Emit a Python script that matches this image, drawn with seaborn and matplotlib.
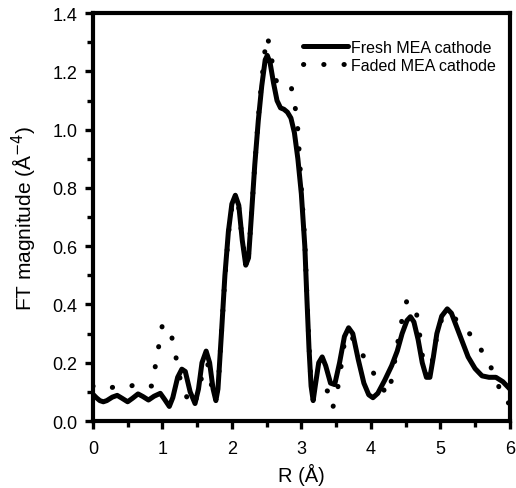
import numpy as np
import pandas as pd
import matplotlib
matplotlib.use("Agg")
import matplotlib.pyplot as plt
import seaborn as sns
from matplotlib.ticker import MultipleLocator

fresh_r = [0.00, 0.05, 0.10, 0.15, 0.20, 0.28, 0.35, 0.42, 0.50, 0.57, 0.65, 0.72, 0.80, 0.88, 0.97,
           1.03, 1.10, 1.15, 1.22, 1.28, 1.33, 1.40, 1.47, 1.52, 1.57, 1.63, 1.68, 1.73, 1.77, 1.80,
           1.85, 1.90, 1.95, 2.00, 2.05, 2.10, 2.15, 2.20, 2.24, 2.28, 2.33, 2.38, 2.43, 2.48, 2.51,
           2.55, 2.60, 2.65, 2.70, 2.75, 2.80, 2.85, 2.90, 2.95, 3.00, 3.05, 3.08, 3.11, 3.14, 3.17,
           3.20, 3.25, 3.30, 3.35, 3.42, 3.48, 3.55, 3.62, 3.68, 3.74, 3.82, 3.90, 3.97, 4.03, 4.10,
           4.20, 4.30, 4.38, 4.45, 4.52, 4.57, 4.62, 4.68, 4.74, 4.80, 4.85, 4.90, 4.95, 5.02, 5.10,
           5.16, 5.24, 5.32, 5.40, 5.50, 5.60, 5.70, 5.80, 5.90, 6.00]
fresh_ft = [0.092, 0.080, 0.070, 0.066, 0.070, 0.082, 0.088, 0.078, 0.066, 0.078, 0.093, 0.084, 0.072, 0.085, 0.095,
            0.075, 0.050, 0.080, 0.150, 0.178, 0.170, 0.100, 0.060, 0.110, 0.200, 0.240, 0.200, 0.110, 0.070, 0.110,
            0.300, 0.500, 0.650, 0.745, 0.775, 0.740, 0.620, 0.535, 0.560, 0.700, 0.880, 1.030, 1.150, 1.240, 1.255,
            1.230, 1.160, 1.100, 1.075, 1.070, 1.060, 1.040, 0.990, 0.900, 0.780, 0.600, 0.420, 0.250, 0.120, 0.070,
            0.120, 0.200, 0.220, 0.190, 0.130, 0.125, 0.200, 0.290, 0.320, 0.300, 0.210, 0.130, 0.090, 0.080, 0.095,
            0.140, 0.190, 0.240, 0.300, 0.345, 0.358, 0.340, 0.280, 0.200, 0.150, 0.150, 0.220, 0.300, 0.360, 0.385,
            0.370, 0.320, 0.270, 0.220, 0.180, 0.155, 0.150, 0.150, 0.135, 0.110]

faded_r = [0.00, 0.10, 0.20, 0.35, 0.50, 0.65, 0.78, 0.85, 0.90, 0.95, 1.00, 1.05, 1.12, 1.18, 1.24,
           1.30, 1.38, 1.45, 1.52, 1.60, 1.65, 1.70, 1.75, 1.80, 1.85, 1.90, 1.95, 2.00, 2.05, 2.10,
           2.15, 2.20, 2.24, 2.28, 2.33, 2.38, 2.43, 2.48, 2.51, 2.55, 2.60, 2.65, 2.70, 2.78, 2.85,
           2.90, 2.95, 3.00, 3.05, 3.08, 3.11, 3.14, 3.18, 3.25, 3.32, 3.40, 3.45, 3.50, 3.55, 3.62,
           3.68, 3.75, 3.85, 3.95, 4.05, 4.12, 4.20, 4.25, 4.31, 4.38, 4.45, 4.52, 4.58, 4.65, 4.69,
           4.75, 4.82, 4.88, 4.95, 5.02, 5.10, 5.18, 5.30, 5.42, 5.53, 5.62, 5.70, 5.81, 5.91, 6.00]
faded_ft = [0.120, 0.110, 0.110, 0.120, 0.115, 0.130, 0.120, 0.120, 0.190, 0.260, 0.330, 0.330, 0.305, 0.240, 0.160,
            0.105, 0.070, 0.050, 0.100, 0.190, 0.200, 0.130, 0.080, 0.110, 0.300, 0.490, 0.640, 0.735, 0.760, 0.730,
            0.620, 0.550, 0.570, 0.700, 0.880, 1.040, 1.170, 1.280, 1.320, 1.280, 1.200, 1.160, 1.150, 1.150, 1.150,
            1.100, 1.000, 0.800, 0.620, 0.430, 0.260, 0.130, 0.090, 0.110, 0.110, 0.100, 0.045, 0.080, 0.150, 0.270,
            0.300, 0.280, 0.240, 0.200, 0.160, 0.145, 0.100, 0.090, 0.155, 0.260, 0.350, 0.415, 0.400, 0.380, 0.320,
            0.210, 0.150, 0.200, 0.290, 0.350, 0.370, 0.360, 0.330, 0.300, 0.270, 0.230, 0.200, 0.140, 0.070, 0.060]

x_ticks = [0, 1, 2, 3, 4, 5, 6]
y_ticks = [0.0, 0.2, 0.4, 0.6, 0.8, 1.0, 1.2, 1.4]

sns.set_style("ticks")
plt.rcParams['font.family'] = ['Liberation Sans', 'DejaVu Sans']

fig = plt.figure(figsize=(5.16, 4.89), dpi=100)
ax = fig.add_axes([0.180, 0.137, 0.808, 0.834])

fresh = pd.DataFrame({"R": fresh_r, "FT": fresh_ft})
faded = pd.DataFrame({"R": faded_r, "FT": faded_ft})

sns.lineplot(data=fresh, x="R", y="FT", ax=ax, color="black", linewidth=3.6,
             label="Fresh MEA cathode", sort=False)
sns.lineplot(data=faded, x="R", y="FT", ax=ax, color="black", linewidth=3.6,
             label="Faded MEA cathode", sort=False)
dot_style = (0, (0.05, 4.0))
line2 = ax.lines[1]
line2.set_linestyle(dot_style)
line2.set_dash_capstyle("round")

ax.set_xlim(0, 6)
ax.set_ylim(0, 1.4)
ax.set_xticks(x_ticks)
ax.set_xticklabels([str(t) for t in x_ticks])
ax.set_yticks(y_ticks)
ax.set_yticklabels([f"{t:.1f}" for t in y_ticks])
ax.xaxis.set_minor_locator(MultipleLocator(0.5))
ax.yaxis.set_minor_locator(MultipleLocator(0.1))

for sp in ["left", "right", "top", "bottom"]:
    ax.spines[sp].set_visible(True)
    ax.spines[sp].set_linewidth(3.0)
    ax.spines[sp].set_color("black")

ax.tick_params(axis="both", which="major", direction="out", length=6, width=2.4,
               labelsize=13, colors="black", labelcolor="black", pad=5,
               top=False, right=False)
ax.tick_params(axis="x", which="major", pad=8)
ax.tick_params(axis="both", which="minor", direction="out", length=4, width=2.4,
               colors="black", top=False, right=False)

ax.set_xlabel("R (Å)", fontsize=14.5, labelpad=4, color="black")
ax.set_ylabel("FT magnitude (Å$^{-4}$)", fontsize=15, labelpad=10, color="black")

leg = ax.legend(loc="upper left", bbox_to_anchor=(0.505, 0.935), frameon=False,
                fontsize=11.5, handlelength=2.8, handletextpad=0.2, borderpad=0,
                borderaxespad=0, labelspacing=0.2)
for t in leg.get_texts():
    t.set_color("black")
leg.get_lines()[1].set_linestyle(dot_style)
leg.get_lines()[1].set_dash_capstyle("round")

fig.savefig("out.png", dpi=100)
